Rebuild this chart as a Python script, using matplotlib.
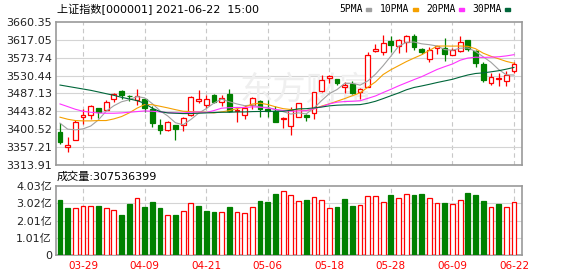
import numpy as np
import matplotlib
matplotlib.use('Agg')
import matplotlib.pyplot as plt
from matplotlib.patches import Rectangle

plt.rcParams['font.family'] = ['DejaVu Sans', 'Noto Sans CJK SC']

# 上证指数 日K 2021-03-24 ~ 2021-06-22
dates = ['03-24', '03-25', '03-26', '03-29', '03-30', '03-31', '04-01', '04-02', '04-06', '04-07',
         '04-08', '04-09', '04-12', '04-13', '04-14', '04-15', '04-16', '04-19', '04-20', '04-21',
         '04-22', '04-23', '04-26', '04-27', '04-28', '04-29', '04-30', '05-06', '05-07', '05-10',
         '05-11', '05-12', '05-13', '05-14', '05-17', '05-18', '05-19', '05-20', '05-21', '05-24',
         '05-25', '05-26', '05-27', '05-28', '05-31', '06-01', '06-02', '06-03', '06-04', '06-07',
         '06-08', '06-09', '06-10', '06-11', '06-15', '06-16', '06-17', '06-18', '06-21', '06-22']
opens = [3393.5, 3357.3, 3375.0, 3431.3, 3435.3, 3452.2, 3447.4, 3474.7, 3493.2, 3482.0,
         3470.7, 3474.7, 3448.9, 3410.4, 3397.5, 3410.4, 3412.0, 3435.3, 3469.9, 3458.6,
         3482.7, 3465.8, 3485.9, 3445.0, 3435.3, 3459.4, 3469.0, 3449.0, 3445.7, 3425.6,
         3407.2, 3431.2, 3434.5, 3439.3, 3492.4, 3523.7, 3521.3, 3503.6, 3510.1, 3489.9,
         3503.6, 3590.5, 3588.0, 3613.8, 3602.5, 3612.2, 3627.5, 3596.1, 3569.6, 3598.5,
         3598.5, 3581.6, 3589.7, 3616.2, 3589.7, 3558.3, 3511.7, 3522.5, 3518.1, 3542.2]
highs = [3416.8, 3382.2, 3423.2, 3449.0, 3459.4, 3453.0, 3471.5, 3489.2, 3495.6, 3483.5,
         3497.2, 3477.1, 3457.0, 3424.8, 3420.8, 3411.0, 3429.7, 3480.3, 3495.6, 3482.7,
         3485.9, 3484.3, 3498.0, 3453.8, 3459.4, 3479.5, 3471.5, 3471.5, 3457.0, 3429.0,
         3455.0, 3465.0, 3437.7, 3490.7, 3531.8, 3531.0, 3522.0, 3515.7, 3518.1, 3500.4,
         3587.3, 3606.6, 3628.3, 3625.9, 3618.5, 3628.0, 3632.3, 3597.0, 3600.0, 3601.7,
         3622.6, 3597.7, 3625.9, 3617.0, 3593.7, 3563.9, 3535.8, 3535.8, 3541.4, 3562.3]
lows = [3364.5, 3344.4, 3374.0, 3412.8, 3424.8, 3427.2, 3446.0, 3466.6, 3474.7, 3469.0,
        3460.2, 3443.3, 3405.5, 3388.7, 3395.1, 3373.4, 3395.9, 3433.0, 3465.0, 3451.4,
        3464.2, 3457.0, 3442.5, 3419.2, 3424.8, 3449.0, 3429.6, 3431.2, 3418.0, 3403.1,
        3385.5, 3429.6, 3420.8, 3425.6, 3489.9, 3513.3, 3506.9, 3489.2, 3485.9, 3473.0,
        3503.0, 3588.0, 3581.6, 3588.0, 3585.6, 3588.0, 3593.7, 3584.0, 3564.0, 3584.0,
        3566.3, 3580.0, 3588.0, 3590.5, 3550.3, 3515.7, 3507.7, 3505.3, 3506.1, 3537.4]
closes = [3368.6, 3362.9, 3419.2, 3435.3, 3456.2, 3443.3, 3466.6, 3486.0, 3483.5, 3480.3,
          3482.0, 3451.4, 3415.2, 3397.5, 3417.6, 3400.0, 3427.3, 3477.9, 3473.9, 3473.1,
          3467.4, 3475.5, 3445.7, 3447.4, 3452.2, 3475.5, 3449.0, 3444.1, 3419.2, 3428.0,
          3446.0, 3464.2, 3431.2, 3489.9, 3518.9, 3530.2, 3513.3, 3506.9, 3489.2, 3497.2,
          3581.6, 3594.5, 3610.6, 3604.1, 3617.8, 3627.5, 3600.1, 3588.0, 3593.7, 3601.7,
          3584.0, 3592.0, 3613.0, 3596.1, 3559.9, 3519.7, 3526.0, 3525.5, 3530.9, 3557.5]
prev_close = 3411.5  # 03-23 收盘, 用于成交量涨跌色
# 成交量(亿股)
vols = [3.21, 2.75, 2.75, 2.86, 2.86, 2.86, 2.75, 2.63, 2.35, 2.98,
        3.33, 2.80, 3.10, 2.75, 2.33, 2.33, 2.57, 3.04, 2.88, 2.57,
        2.51, 2.51, 2.80, 2.51, 2.45, 2.80, 3.15, 3.10, 3.56, 3.74,
        3.50, 3.15, 3.21, 3.39, 3.21, 2.75, 2.80, 3.27, 2.86, 2.92,
        3.45, 3.45, 3.10, 3.50, 3.33, 3.56, 3.50, 3.56, 3.33, 3.04,
        3.04, 3.00, 3.21, 3.62, 3.50, 3.15, 2.80, 2.98, 2.80, 3.075]

# 均线
ma5 = [3415.2, 3400.7, 3399.1, 3401.5, 3408.4, 3423.4, 3444.1, 3457.5, 3467.1, 3471.9,
       3479.7, 3476.6, 3462.5, 3445.3, 3432.7, 3416.3, 3411.5, 3424.1, 3439.3, 3450.4,
       3463.9, 3473.6, 3467.1, 3461.8, 3457.6, 3459.3, 3454.0, 3453.6, 3448.0, 3443.2,
       3437.3, 3440.3, 3437.7, 3451.9, 3470.0, 3486.9, 3496.7, 3511.8, 3511.7, 3507.4,
       3517.6, 3533.9, 3554.6, 3577.6, 3601.7, 3610.9, 3612.0, 3607.5, 3605.4, 3602.2,
       3593.5, 3591.9, 3596.9, 3597.4, 3589.0, 3576.1, 3562.9, 3545.4, 3532.4, 3531.9]
ma10 = [3429.7, 3424.8, 3421.6, 3420.8, 3420.8, 3421.6, 3421.6, 3425.6, 3431.3, 3440.2,
        3451.5, 3460.4, 3460.0, 3456.2, 3452.3, 3448.0, 3444.1, 3443.3, 3442.3, 3441.6,
        3440.1, 3442.5, 3445.6, 3450.6, 3454.0, 3461.6, 3463.8, 3460.4, 3454.9, 3450.4,
        3448.3, 3447.1, 3445.7, 3449.9, 3456.6, 3462.1, 3468.5, 3474.8, 3481.8, 3488.7,
        3502.3, 3515.3, 3533.2, 3544.7, 3554.5, 3564.3, 3572.9, 3581.1, 3591.5, 3602.0,
        3602.2, 3601.9, 3602.2, 3601.4, 3595.6, 3584.8, 3577.4, 3571.2, 3564.9, 3560.5]
ma20 = [3461.8, 3455.4, 3448.9, 3444.1, 3441.7, 3440.1, 3439.3, 3439.3, 3440.1, 3441.7,
        3443.3, 3444.9, 3444.1, 3442.5, 3440.9, 3440.1, 3440.1, 3441.7, 3442.5, 3440.9,
        3445.8, 3451.5, 3452.8, 3453.4, 3453.2, 3454.8, 3453.9, 3451.8, 3448.6, 3446.0,
        3444.2, 3444.8, 3445.6, 3450.3, 3455.3, 3461.8, 3466.1, 3467.6, 3468.3, 3469.6,
        3475.3, 3481.2, 3489.5, 3497.3, 3505.6, 3513.2, 3520.7, 3527.9, 3536.6, 3545.3,
        3552.2, 3558.6, 3567.7, 3573.0, 3575.1, 3574.5, 3575.2, 3576.1, 3578.2, 3581.2]
ma30 = [3507.6, 3504.4, 3501.2, 3498.0, 3494.8, 3490.8, 3486.7, 3482.7, 3477.9, 3473.9,
        3469.9, 3463.4, 3451.4, 3443.3, 3440.1, 3439.3, 3438.5, 3438.5, 3439.3, 3440.1,
        3440.9, 3441.7, 3441.7, 3442.5, 3442.5, 3443.3, 3443.6, 3443.8, 3444.0, 3444.1,
        3446.6, 3450.0, 3450.4, 3452.2, 3454.3, 3457.2, 3458.8, 3459.5, 3459.7, 3460.2,
        3463.5, 3468.3, 3474.8, 3481.7, 3488.4, 3496.0, 3501.7, 3505.4, 3509.4, 3513.7,
        3517.6, 3521.5, 3527.0, 3532.0, 3535.6, 3537.1, 3539.6, 3542.3, 3546.1, 3550.4]

price_ticks = [3313.91, 3357.21, 3400.52, 3443.82, 3487.13, 3530.44, 3573.74, 3617.05, 3660.35]
vol_ticks = [0, 1.0075, 2.015, 3.0225, 4.03]
vol_labels = ['0', '1.01亿', '2.01亿', '3.02亿', '4.03亿']
label_idx = [3, 11, 19, 27, 35, 43, 51, 59]

RED = '#ff0000'
GREEN = '#008000'
GRID = '#d4d4d4'
FRAME = '#999999'

fig = plt.figure(figsize=(5.78, 2.76), dpi=100)
ax = fig.add_axes([56 / 578, 1 - 165 / 276, 466 / 578, 143 / 276])
axv = fig.add_axes([56 / 578, 1 - 255 / 276, 466 / 578, 69 / 276])

x = np.arange(len(closes))
w = 0.62

for a in (ax, axv):
    a.set_xlim(-0.52, 60.04)
    for s in a.spines.values():
        s.set_color(FRAME)
        s.set_linewidth(1.2)
    a.tick_params(length=0, labelsize=8, labelcolor='#222222', pad=3)
    for i in label_idx:
        a.axvline(i, color='#c8c8c8', lw=0.8, ls=(0, (4, 3)), zorder=0)

# 主图 K线
ax.set_ylim(price_ticks[0], price_ticks[-1])
ax.set_yticks(price_ticks)
ax.set_yticklabels(['%.2f' % t for t in price_ticks])
ax.set_xticks([])
for t in price_ticks[1:-1]:
    ax.axhline(t, color=GRID, lw=0.8, zorder=0)

ax.text(0.395, 0.52, '东方财富', transform=ax.transAxes, fontsize=24, color='#efefef',
        family=['Noto Sans CJK SC'], ha='left', va='center', zorder=0.5)

for i in x:
    o, h, l, c = opens[i], highs[i], lows[i], closes[i]
    up = c >= o
    col = RED if up else GREEN
    ax.vlines(i, l, h, color=col, lw=0.9, zorder=2)
    body = max(abs(c - o), 0.8)
    ax.add_patch(Rectangle((i - w / 2, min(o, c)), w, body, facecolor='white' if up else GREEN,
                           edgecolor=col, lw=0.9, zorder=3))

ax.plot(x, ma5, color='#a0a0a0', lw=0.8, zorder=4)
ax.plot(x, ma10, color='#f5a000', lw=0.8, zorder=4)
ax.plot(x, ma20, color='#ff33ff', lw=0.8, zorder=4)
ax.plot(x, ma30, color='#00663a', lw=0.8, zorder=4)

# 成交量
axv.set_ylim(0, 4.03)
axv.set_yticks(vol_ticks)
axv.set_yticklabels(vol_labels)
for t in vol_ticks[1:-1]:
    axv.axhline(t, color=GRID, lw=0.8, zorder=0)
pc = [prev_close] + closes[:-1]
for i in x:
    vup = closes[i] >= pc[i]
    axv.add_patch(Rectangle((i - w / 2, 0), w, vols[i], facecolor='white' if vup else GREEN,
                            edgecolor=RED if vup else GREEN, lw=0.9, zorder=3))
axv.set_xticks(label_idx)
axv.set_xticklabels([dates[i] for i in label_idx], color=RED, fontsize=7.5)
axv.tick_params(axis='x', pad=4)

# 标题 / 图例
fig.text(57 / 578, 1 - 9 / 276, '上证指数[000001] 2021-06-22  15:00', fontsize=8, va='center')
fig.text(57 / 578, 1 - 177 / 276, '成交量:307536399', fontsize=8, va='center')
legend = [('5PMA', '#a0a0a0', 339), ('10PMA', '#f5a000', 380), ('20PMA', '#ff33ff', 426),
          ('30PMA', '#00663a', 472)]
for name, col, px in legend:
    fig.text(px / 578, 1 - 9 / 276, name, fontsize=7, va='center', family='DejaVu Sans Mono')
    fig.add_artist(Rectangle(((px + len(name) * 5.9 + 3) / 578, 1 - 11 / 276), 5 / 578, 3 / 276,
                             color=col, transform=fig.transFigure))

fig.savefig('out.png', dpi=100)
